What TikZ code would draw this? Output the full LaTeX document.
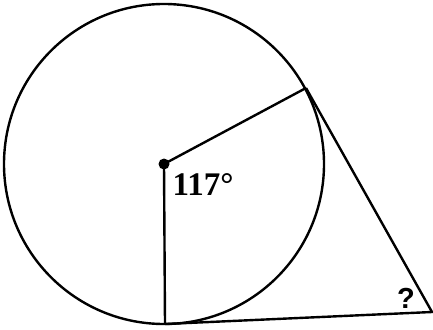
\documentclass[tikz,border=0pt]{standalone}
\usepackage{fontspec}
\setmainfont{Liberation Serif}
\newfontfamily\qfont{Liberation Sans}
\begin{document}
\begin{tikzpicture}[x=1pt,y=-1pt,line width=2.4pt,
  lbl/.style={font=\fontsize{33}{33}\selectfont\bfseries,inner sep=0pt}]
\useasboundingbox (0,0) rectangle (433,329);
\coordinate (O) at (164,164);
\coordinate (T) at (306,88);
\coordinate (B) at (165,324);
\coordinate (P) at (432,312);
\draw (O) circle (160);
\fill (O) circle (5.5);
\draw (O) -- (T);
\draw (O) -- (B);
\draw (T) -- (P) -- (B);
\node[lbl] (a) at (203,185) {117°};
\node[lbl,font=\fontsize{29}{29}\selectfont\bfseries\qfont] (q) at (406,298) {?};
\end{tikzpicture}
\end{document}
